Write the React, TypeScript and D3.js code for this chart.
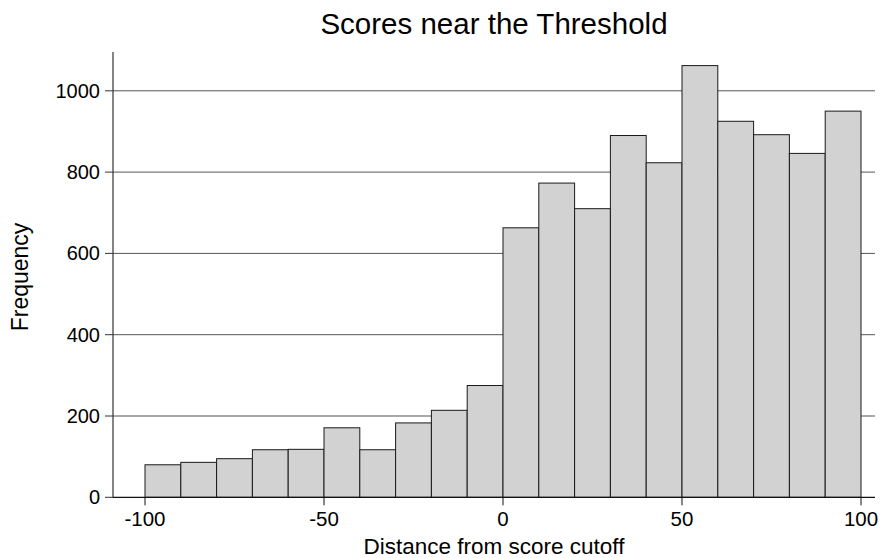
import React from "react";
import * as d3 from "d3";

// Histogram bins: lower edge of each 10-point bin and its count
const binStarts = [-100, -90, -80, -70, -60, -50, -40, -30, -20, -10, 0, 10, 20, 30, 40, 50, 60, 70, 80, 90];
const counts = [80, 86, 95, 117, 118, 171, 117, 183, 214, 275, 663, 773, 710, 890, 823, 1062, 925, 892, 846, 950];
const binWidth = 10;
const xTicks = [-100, -50, 0, 50, 100];
const yTicks = [0, 200, 400, 600, 800, 1000];

const W = 880;
const H = 558;
const plotLeft = 113;
const plotRight = 875;
const plotTop = 52;
const plotBottom = 497.3;

export default function App() {
  const x = d3.scaleLinear().domain([-100, 100]).range([145, 861]);
  const y = d3.scaleLinear().domain([0, 1000]).range([plotBottom, 90.8]);
  const font = "'Liberation Sans', Arial, sans-serif";

  return (
    <svg width={W} height={H} style={{ position: "absolute", left: 0, top: 0, background: "#fff" }} fontFamily={font}>
      {/* horizontal gridlines */}
      {yTicks.filter((t) => t > 0).map((t) => (
        <line key={"g" + t} x1={plotLeft} x2={plotRight} y1={y(t)} y2={y(t)} stroke="#555" strokeWidth={1} />
      ))}
      {/* bars */}
      {binStarts.map((b, i) => (
        <rect
          key={b}
          x={x(b)}
          y={y(counts[i])}
          width={x(b + binWidth) - x(b)}
          height={plotBottom - y(counts[i])}
          fill="#d2d2d2"
          stroke="#1a1a1a"
          strokeWidth={1}
        />
      ))}
      {/* axes */}
      <line x1={plotLeft} x2={plotLeft} y1={plotTop} y2={plotBottom} stroke="#333" strokeWidth={1.2} />
      <line x1={plotLeft} x2={plotRight} y1={plotBottom} y2={plotBottom} stroke="#111" strokeWidth={1.2} />
      {yTicks.map((t) => (
        <g key={"y" + t}>
          <line x1={plotLeft - 8} x2={plotLeft} y1={y(t)} y2={y(t)} stroke="#333" strokeWidth={1} />
          <text x={100} y={y(t)} dy="0.35em" textAnchor="end" fontSize={20} fill="#000">
            {t}
          </text>
        </g>
      ))}
      {xTicks.map((t) => (
        <g key={"x" + t}>
          <line x1={x(t)} x2={x(t)} y1={plotBottom} y2={plotBottom + 8} stroke="#111" strokeWidth={1} />
          <text x={x(t)} y={525.5} textAnchor="middle" fontSize={20.5} fill="#000">
            {t}
          </text>
        </g>
      ))}
      {/* titles */}
      <text x={494} y={34} textAnchor="middle" fontSize={29.5} fill="#000">
        Scores near the Threshold
      </text>
      <text x={494} y={554} textAnchor="middle" fontSize={22.5} fill="#000">
        Distance from score cutoff
      </text>
      <text transform={`translate(28, 277) rotate(-90)`} textAnchor="middle" fontSize={23} fill="#000">
        Frequency
      </text>
    </svg>
  );
}
